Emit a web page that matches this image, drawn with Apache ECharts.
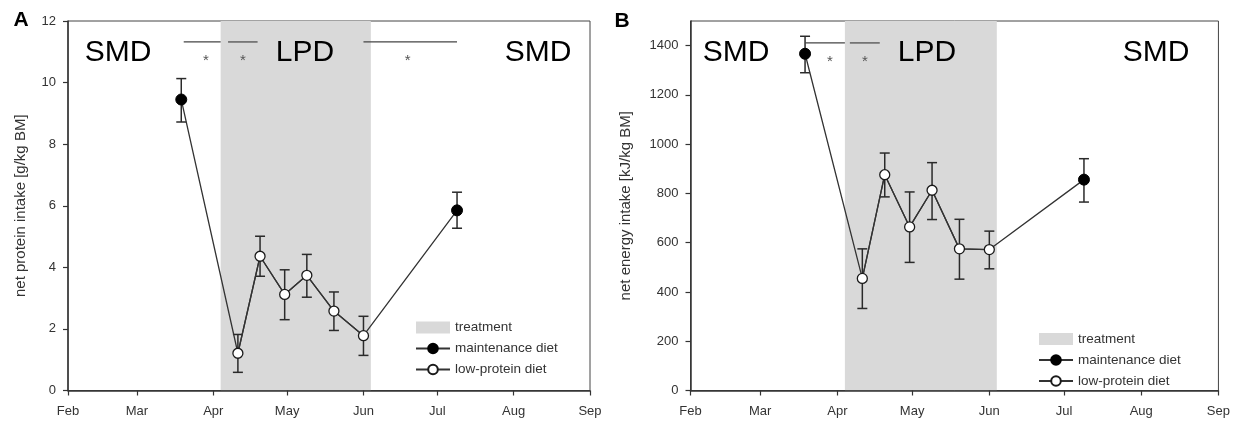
<!DOCTYPE html>
<html><head><meta charset="utf-8">
<script src="https://cdn.jsdelivr.net/npm/echarts@6/dist/echarts.min.js"></script>
<style>html,body{margin:0;padding:0;background:#fff}#c{width:1233px;height:423px}</style>
</head><body><div id="c"></div>
<script>
// ---------- data ----------
const monthTicks = ['2013-02-01','2013-03-01','2013-04-01','2013-05-01','2013-06-01','2013-07-01','2013-08-01','2013-09-01'];
const monthLabels = ['Feb','Mar','Apr','May','Jun','Jul','Aug','Sep'];
const treatmentRange = ['2013-04-04','2013-06-04'];

const maintDates = ['2013-03-19','2013-07-09'];
const lowDates = ['2013-04-11','2013-04-20','2013-04-30','2013-05-09','2013-05-20','2013-06-01'];

const proteinMaint   = [9.45, 5.85];
const proteinMaintLo = [8.72, 5.27];
const proteinMaintHi = [10.13, 6.44];
const proteinLow   = [1.21, 4.36, 3.12, 3.74, 2.58, 1.78];
const proteinLowLo = [0.59, 3.71, 2.30, 3.03, 1.95, 1.14];
const proteinLowHi = [1.82, 5.01, 3.92, 4.42, 3.20, 2.41];

const energyMaint   = [1367, 856];
const energyMaintLo = [1290, 765];
const energyMaintHi = [1438, 941];
const energyLow   = [455, 876, 664, 813, 575, 572];
const energyLowLo = [333, 786, 520, 694, 452, 494];
const energyLowHi = [575, 964, 806, 925, 695, 647];

const yTicksA = [0, 2, 4, 6, 8, 10, 12];
const yTicksB = [0, 200, 400, 600, 800, 1000, 1200, 1400];
const yMaxA = 12, yMaxB = 1500;

const sigLinesA = [['2013-03-20','2013-04-04'],['2013-04-07','2013-04-19'],['2013-06-01','2013-07-09']];
const sigStarsA = ['2013-03-29','2013-04-13','2013-06-19'];
const sigLevelA = 11.32, starLevelA = 10.83;
const sigLinesB = [['2013-03-19','2013-04-04'],['2013-04-06','2013-04-18']];
const sigStarsB = ['2013-03-29','2013-04-12'];
const sigLevelB = 1411, starLevelB = 1350;

// ---------- helpers ----------
// x positions are days since the first month tick (Feb 1)
function dayOf(s){
  const p = s.split('-').map(Number), q = monthTicks[0].split('-').map(Number);
  return Math.round((Date.UTC(p[0], p[1]-1, p[2]) - Date.UTC(q[0], q[1]-1, q[2])) / 86400000);
}
const monthDays = monthTicks.map(dayOf);
const INK = '#333';
const FONT = 'Liberation Sans, Arial, sans-serif';

function xAxisFor(gi){
  return {
    type:'value', gridIndex:gi, min:monthDays[0], max:monthDays[monthDays.length-1], z:5,
    axisLine:{show:true, lineStyle:{color:INK, width:1.5}},
    axisTick:{show:true, inside:false, length:5, customValues:monthDays, lineStyle:{color:INK, width:1.2}},
    axisLabel:{customValues:monthDays, margin:14, fontSize:13, color:INK, fontFamily:FONT,
      formatter:function(v){ const i = monthDays.indexOf(Math.round(v)); return i >= 0 ? monthLabels[i] : ''; }},
    splitLine:{show:false}
  };
}
function yAxisFor(gi, max, ticks, name, gap){
  return {
    type:'value', gridIndex:gi, min:0, max:max, z:5,
    name:name, nameLocation:'middle', nameGap:gap,
    nameTextStyle:{fontSize:15, color:INK, fontFamily:FONT},
    axisLine:{show:true, lineStyle:{color:INK, width:1.5}},
    axisTick:{show:true, inside:false, length:5, customValues:ticks, lineStyle:{color:INK, width:1.2}},
    axisLabel:{customValues:ticks, margin:12, fontSize:13, color:INK, fontFamily:FONT,
      formatter:function(v){ return String(v); }},
    splitLine:{show:false}
  };
}
function mergeSeries(mD, mV, lD, lV){
  const all = mD.map((d,i)=>[dayOf(d), mV[i]]).concat(lD.map((d,i)=>[dayOf(d), lV[i]]));
  all.sort((a,b)=>a[0]-b[0]);
  return all;
}
function errSeries(gi, dates, lo, hi){
  return {
    type:'custom', xAxisIndex:gi, yAxisIndex:gi, z:3, silent:true,
    encode:{x:0, y:[1,2]},
    data: dates.map((d,i)=>[dayOf(d), lo[i], hi[i]]),
    renderItem:function(params, api){
      const x = api.value(0);
      const a = api.coord([x, api.value(1)]), b = api.coord([x, api.value(2)]);
      const w = 5, st = {stroke:'#2a2a2a', lineWidth:1.5};
      return {type:'group', children:[
        {type:'line', shape:{x1:a[0], y1:a[1], x2:b[0], y2:b[1]}, style:st},
        {type:'line', shape:{x1:a[0]-w, y1:a[1], x2:a[0]+w, y2:a[1]}, style:st},
        {type:'line', shape:{x1:b[0]-w, y1:b[1], x2:b[0]+w, y2:b[1]}, style:st}
      ]};
    }
  };
}
function sigSeries(gi, lines, level, stars, starLevel){
  const data = lines.map(l=>[0, dayOf(l[0]), dayOf(l[1]), level]).concat(stars.map(s=>[1, dayOf(s), dayOf(s), starLevel]));
  return {
    type:'custom', xAxisIndex:gi, yAxisIndex:gi, z:4, silent:true,
    encode:{x:[1,2], y:3},
    data:data,
    renderItem:function(params, api){
      const kind = api.value(0);
      const a = api.coord([api.value(1), api.value(3)]), b = api.coord([api.value(2), api.value(3)]);
      if (kind === 0) {
        return {type:'line', shape:{x1:a[0], y1:a[1], x2:b[0], y2:b[1]}, style:{stroke:'#444', lineWidth:1.2}};
      }
      return {type:'text', x:a[0], y:a[1]+4, style:{text:'*', fontSize:15, fill:'#555', align:'center', verticalAlign:'middle', fontFamily:FONT}};
    }
  };
}
function markerSeries(gi, name, dates, vals, filled){
  let data;
  if (filled) { // isolated points (no direct line between them)
    data = [];
    dates.forEach((d,i)=>{ if(i>0) data.push([dayOf(d)-1, '-']); data.push([dayOf(d), vals[i]]); });
  } else {
    data = dates.map((d,i)=>[dayOf(d), vals[i]]);
  }
  return {
    type:'line', name:name, xAxisIndex:gi, yAxisIndex:gi, z:5, silent:true,
    data:data, connectNulls:false, showSymbol:true, showAllSymbol:true,
    symbol:'circle', symbolSize: filled ? 11 : 10,
    itemStyle: filled ? {color:'#000', borderColor:'#000', borderWidth:1} : {color:'#fff', borderColor:'#1a1a1a', borderWidth:1.3},
    lineStyle:{color:INK, width:1.3},
    emphasis:{disabled:true}
  };
}
function connector(gi, mD, mV, lD, lV, yMax){
  return {
    type:'line', name:'conn'+gi, xAxisIndex:gi, yAxisIndex:gi, z:3, silent:true,
    data: mergeSeries(mD, mV, lD, lV), symbol:'none', lineStyle:{color:INK, width:1.3},
    markArea:{silent:true, itemStyle:{color:'#d9d9d9'},
      data:[[{xAxis:dayOf(treatmentRange[0]), yAxis:0},{xAxis:dayOf(treatmentRange[1]), yAxis:yMax}]]}
  };
}
function treatmentSeries(gi){
  return {type:'bar', name:'treatment', xAxisIndex:gi, yAxisIndex:gi, data:[], itemStyle:{color:'#d9d9d9'}};
}
function legendFor(left, top){
  return {
    left:left, top:top, orient:'vertical', padding:0, itemGap:7, itemWidth:34, itemHeight:12,
    selectedMode:false,
    textStyle:{fontSize:13.5, color:INK, fontFamily:FONT},
    data:[{name:'treatment', icon:'rect'}, {name:'maintenance diet'}, {name:'low-protein diet'}]
  };
}
function label(text, x, y, size, bold){
  return {type:'text', x:x, y:y, z:10, style:{text:text, fontSize:size, fontWeight: bold?'bold':'normal',
    fill:'#000', align:'center', verticalAlign:'middle', fontFamily:FONT}};
}

const option = {
  animation:false,
  backgroundColor:'#fff',
  grid:[
    {left:68, right:643, top:21, bottom:32.5, show:true, borderColor:'#444', borderWidth:1},
    {left:690.5, right:13, top:21, bottom:32.5, show:true, borderColor:'#444', borderWidth:1}
  ],
  xAxis:[xAxisFor(0), xAxisFor(1)],
  yAxis:[
    yAxisFor(0, yMaxA, yTicksA, 'net protein intake [g/kg BM]', 40),
    yAxisFor(1, yMaxB, yTicksB, 'net energy intake [kJ/kg BM]', 57)
  ],
  legend:[legendFor(415, 320.5), legendFor(1038, 332)],
  graphic:[
    label('A', 21, 20, 21, true),
    label('B', 622, 21, 21, true),
    label('SMD', 118, 53, 30),
    label('LPD', 305, 53, 30),
    label('SMD', 538, 53, 30),
    label('SMD', 736, 53, 30),
    label('LPD', 927, 53, 30),
    label('SMD', 1156, 53, 30)
  ],
  series:[
    treatmentSeries(0),
    connector(0, maintDates, proteinMaint, lowDates, proteinLow, yMaxA),
    errSeries(0, maintDates.concat(lowDates), proteinMaintLo.concat(proteinLowLo), proteinMaintHi.concat(proteinLowHi)),
    markerSeries(0, 'maintenance diet', maintDates, proteinMaint, true),
    markerSeries(0, 'low-protein diet', lowDates, proteinLow, false),
    sigSeries(0, sigLinesA, sigLevelA, sigStarsA, starLevelA),

    treatmentSeries(1),
    connector(1, maintDates, energyMaint, lowDates, energyLow, yMaxB),
    errSeries(1, maintDates.concat(lowDates), energyMaintLo.concat(energyLowLo), energyMaintHi.concat(energyLowHi)),
    markerSeries(1, 'maintenance diet', maintDates, energyMaint, true),
    markerSeries(1, 'low-protein diet', lowDates, energyLow, false),
    sigSeries(1, sigLinesB, sigLevelB, sigStarsB, starLevelB)
  ]
};
const chart = echarts.init(document.getElementById('c'), null, {renderer:'canvas'});
chart.setOption(option);
</script></body></html>
